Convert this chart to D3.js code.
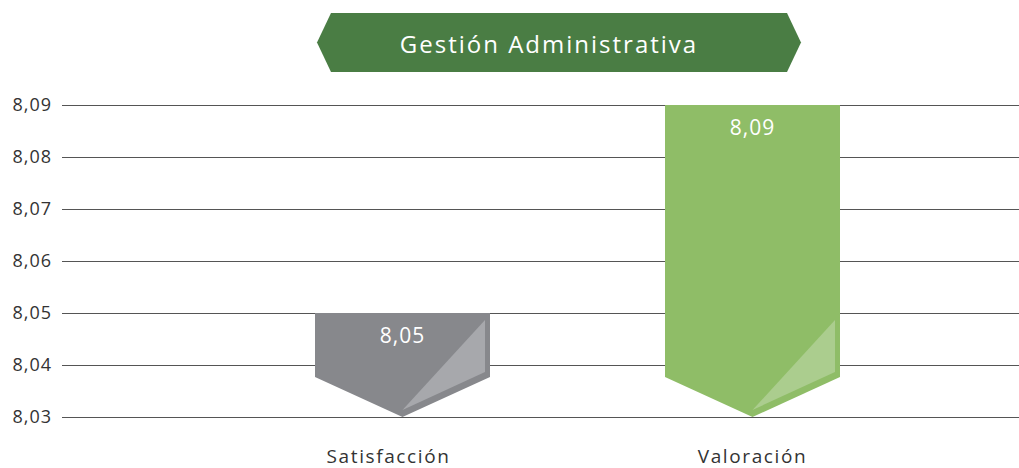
<!DOCTYPE html>
<html><head><meta charset="utf-8">
<script src="https://cdn.jsdelivr.net/npm/d3@7"></script>
<style>body{margin:0;background:#fff}svg{display:block}text{font-family:"Open Sans",Lato,sans-serif;font-weight:400}</style>
</head><body><svg id="c" width="1019" height="468"></svg>
<script>
const title = "Gestión Administrativa";
const categories = ["Satisfacción", "Valoración"];
const values = [8.05, 8.09];
const valueLabels = ["8,05", "8,09"];
const tickValues = [8.03, 8.04, 8.05, 8.06, 8.07, 8.08, 8.09];
const barColors = ["#87888c", "#8fbd67"];
const shineColors = ["#a7a8ac", "#abcd8e"];

const svg = d3.select("#c");
const W = 1019;
const y = d3.scaleLinear().domain([8.03, 8.09]).range([417, 105]);
const x = d3.scaleBand().domain(categories).range([140, 1015]).paddingInner(0.5).paddingOuter(0.5);

const fmt = d => d3.format(".2f")(d).replace(".", ",");
svg.append("g").selectAll("line").data(tickValues).join("line")
  .attr("x1", 62).attr("x2", W).attr("y1", d => y(d) + 0.5).attr("y2", d => y(d) + 0.5)
  .attr("stroke", "#555").attr("stroke-width", 1);
svg.append("g").selectAll("text").data(tickValues).join("text")
  .attr("x", 52).attr("y", d => y(d) + 6).attr("text-anchor", "end")
  .attr("font-size", 18).attr("fill", "#333").attr("letter-spacing", 1).text(fmt);

const notch = 40;
const base = y.domain()[0];
const g = svg.append("g");
categories.forEach((c, i) => {
  const x0 = x(c), x1 = x0 + x.bandwidth(), xm = x0 + x.bandwidth() / 2;
  const top = y(values[i]), bot = y(base);
  g.append("path").attr("fill", barColors[i])
    .attr("d", `M${x0},${top}L${x1},${top}L${x1},${bot - notch}L${xm},${bot}L${x0},${bot - notch}Z`);
  const sh = x1 - 5;
  g.append("path").attr("fill", shineColors[i])
    .attr("d", `M${sh},${bot - 97}L${sh},${bot - 45}L${xm},${bot - 7}Z`);
  g.append("text").attr("x", xm).attr("y", top + 30).attr("text-anchor", "middle")
    .attr("font-size", 21).attr("fill", "#fff").attr("letter-spacing", 1).text(valueLabels[i]);
  svg.append("text").attr("x", xm - (i === 0 ? 14 : 0)).attr("y", 463).attr("text-anchor", "middle")
    .attr("font-size", 19).attr("fill", "#333").attr("letter-spacing", 1.6).text(c);
});

const bx0 = 317, bx1 = 801, by0 = 13, by1 = 72, bm = (by0 + by1) / 2, cut = 14;
svg.append("path").attr("fill", "#4a7d44")
  .attr("d", `M${bx0},${bm}L${bx0 + cut},${by0}L${bx1 - cut},${by0}L${bx1},${bm}L${bx1 - cut},${by1}L${bx0 + cut},${by1}Z`);
svg.append("text").attr("x", (bx0 + bx1) / 2 - 10).attr("y", 53).attr("text-anchor", "middle")
  .attr("font-size", 24).attr("fill", "#fff").attr("letter-spacing", 2).text(title);
</script></body></html>
